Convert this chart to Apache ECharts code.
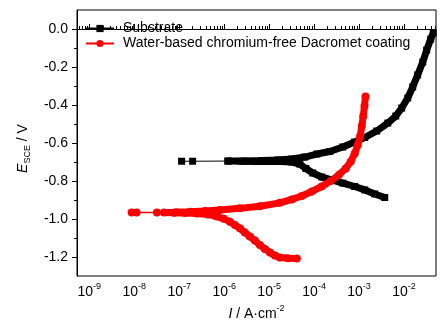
<!DOCTYPE html>
<html>
<head>
<meta charset="utf-8">
<script src="https://cdn.jsdelivr.net/npm/echarts@6/dist/echarts.min.js"></script>
<style>
  html, body { margin: 0; padding: 0; background: #fff; }
  #chart { width: 443px; height: 324px; }
</style>
</head>
<body>
<div id="chart"></div>
<script>
// Potentiodynamic polarization curves: current density (A·cm-2) vs potential (V vs SCE)

const seriesNames = ['Substrate', 'Water-based chromium-free Dacromet coating'];

// Substrate: sparse points near the corrosion potential
const substrateSparse = [
  [1.21e-6, -0.695], [1.99e-7, -0.696], [1.13e-7, -0.696]
];
// Substrate: cathodic branch -> corrosion potential -> anodic branch
const substrateCurve = [
  [3.72e-3, -0.887], [2.23e-3, -0.868], [1.34e-3, -0.847], [8.0e-4, -0.829],
  [4.35e-4, -0.811], [2.61e-4, -0.795], [1.48e-4, -0.779], [9.35e-5, -0.758],
  [6.55e-5, -0.734], [4.81e-5, -0.711], [3.19e-5, -0.700], [1.73e-5, -0.697],
  [9.35e-6, -0.697], [4.81e-6, -0.697], [2.47e-6, -0.696], [1.21e-6, -0.695],
  [2.88e-6, -0.695], [6.89e-6, -0.692], [1.56e-5, -0.689], [3.19e-5, -0.684],
  [6.21e-5, -0.674], [1.15e-4, -0.658], [2.23e-4, -0.645], [4.35e-4, -0.621],
  [8.0e-4, -0.595], [1.34e-3, -0.571], [2.47e-3, -0.537], [4.35e-3, -0.495],
  [6.55e-3, -0.458], [8.89e-3, -0.416], [1.21e-2, -0.363], [1.56e-2, -0.305],
  [2.01e-2, -0.242], [2.61e-2, -0.174], [3.19e-2, -0.111], [3.92e-2, -0.053],
  [4.46e-2, -0.021]
];

// Dacromet coating: sparse points near the corrosion potential
const coatingSparse = [
  [3.19e-8, -0.966], [1.13e-8, -0.966], [8.75e-9, -0.966]
];
// Dacromet coating: cathodic branch -> corrosion potential -> anodic branch
const coatingCurve = [
  [4.13e-5, -1.208], [2.61e-5, -1.207], [1.73e-5, -1.203], [1.34e-5, -1.192],
  [1.04e-5, -1.176], [8.02e-6, -1.158], [6.21e-6, -1.137], [4.81e-6, -1.113],
  [3.72e-6, -1.092], [2.88e-6, -1.071], [2.23e-6, -1.049], [1.73e-6, -1.032],
  [1.34e-6, -1.014], [9.84e-7, -0.999], [6.89e-7, -0.987], [4.35e-7, -0.976],
  [2.47e-7, -0.971], [1.34e-7, -0.968], [7.62e-8, -0.967], [4.57e-8, -0.966],
  [8.45e-8, -0.965], [1.73e-7, -0.962], [3.72e-7, -0.958], [8.02e-7, -0.953],
  [2.23e-6, -0.944], [6.21e-6, -0.933], [1.73e-5, -0.915], [3.19e-5, -0.897],
  [5.33e-5, -0.879], [8.89e-5, -0.855], [1.48e-4, -0.829], [2.35e-4, -0.800],
  [3.54e-4, -0.768], [5.06e-4, -0.734], [6.55e-4, -0.697], [8.0e-4, -0.655],
  [9.35e-4, -0.611], [1.06e-3, -0.563], [1.15e-3, -0.511], [1.24e-3, -0.458],
  [1.32e-3, -0.405], [1.39e-3, -0.355]
];

// Axis ranges and ticks
const xMin = 5.33e-10, xMax = 5.14e-2;
const yMin = -1.3, yMax = 0.1;
const xTicks = [1e-9, 1e-8, 1e-7, 1e-6, 1e-5, 1e-4, 1e-3, 1e-2];
const yTicks = [-1.2, -1.0, -0.8, -0.6, -0.4, -0.2, 0.0];
const yMinorTicks = [-1.1, -0.9, -0.7, -0.5, -0.3, -0.1];
// logarithmic minor ticks 2..9 within every decade
const xMinorTicks = [];
for (let d = -10; d <= -2; d++) {
  for (let m = 2; m <= 9; m++) {
    const v = m * Math.pow(10, d);
    if (v > xMin && v < xMax) xMinorTicks.push(v);
  }
}

const FONT = 'Liberation Sans, Arial, sans-serif';
const chart = echarts.init(document.getElementById('chart'), null, { renderer: 'canvas' });

chart.setOption({
  animation: false,
  backgroundColor: '#fff',
  textStyle: { fontFamily: FONT },
  grid: {
    left: 77, top: 10, right: 7, bottom: 48,
    outerBoundsMode: 'none', containLabel: false,
    show: true, borderColor: '#000', borderWidth: 1, backgroundColor: 'transparent'
  },
  legend: {
    orient: 'vertical',
    left: 80, top: 16,
    itemWidth: 28, itemHeight: 9, itemGap: 0,
    data: seriesNames,
    textStyle: { fontFamily: FONT, fontSize: 14, color: '#000', lineHeight: 15, padding: [0, 0, 0, 4] }
  },
  xAxis: [{
    type: 'log', logBase: 10, min: xMin, max: xMax,
    name: '{i|I}{t| / A·cm}{sup|-2}',
    nameLocation: 'middle', nameGap: 25,
    nameTextStyle: {
      fontFamily: FONT, fontSize: 14, color: '#000', lineHeight: 20,
      rich: {
        i: { fontFamily: FONT, fontSize: 14, fontStyle: 'italic', color: '#000', lineHeight: 20, verticalAlign: 'middle' },
        t: { fontFamily: FONT, fontSize: 14, color: '#000', lineHeight: 20, verticalAlign: 'middle' },
        sup: { fontFamily: FONT, fontSize: 9, color: '#000', lineHeight: 8, verticalAlign: 'top' }
      }
    },
    axisLine: { lineStyle: { color: '#000', width: 1 } },
    axisTick: { inside: true, length: 5, customValues: xTicks, lineStyle: { color: '#000' } },
    splitLine: { show: false },
    axisLabel: {
      customValues: xTicks, margin: 6, color: '#000',
      formatter: function (v) {
        return '{b|10}{sup|' + Math.round(Math.log10(v)) + '}';
      },
      rich: {
        b: { fontFamily: FONT, fontSize: 14, color: '#000', lineHeight: 20, verticalAlign: 'middle' },
        sup: { fontFamily: FONT, fontSize: 9, color: '#000', lineHeight: 8, verticalAlign: 'top' }
      }
    }
  }, {
    // minor ticks of the current axis
    type: 'log', logBase: 10, min: xMin, max: xMax, position: 'bottom',
    axisLine: { show: false },
    axisTick: { inside: true, length: 3, customValues: xMinorTicks, lineStyle: { color: '#000' } },
    axisLabel: { show: false },
    splitLine: { show: false }
  }],
  yAxis: [{
    type: 'value', min: yMin, max: yMax,
    name: '{e|E}{s|SCE}{n| / V}',
    nameLocation: 'middle', nameRotate: 90, nameGap: 45,
    nameTextStyle: {
      fontFamily: FONT, fontSize: 14, color: '#000', lineHeight: 18,
      padding: [0, 11, 0, 0],
      rich: {
        e: { fontFamily: FONT, fontSize: 14, fontStyle: 'italic', color: '#000', lineHeight: 18, verticalAlign: 'middle' },
        s: { fontFamily: FONT, fontSize: 9, color: '#000', lineHeight: 9, verticalAlign: 'bottom' },
        n: { fontFamily: FONT, fontSize: 14, color: '#000', lineHeight: 18, verticalAlign: 'middle' }
      }
    },
    axisLine: { lineStyle: { color: '#000', width: 1 } },
    axisTick: { inside: false, length: 5, customValues: yTicks, lineStyle: { color: '#000' } },
    splitLine: { show: false },
    axisLabel: {
      customValues: yTicks, margin: 9, color: '#000', fontFamily: FONT, fontSize: 14,
      formatter: function (v) { return v.toFixed(1); }
    }
  }, {
    // minor ticks of the potential axis
    type: 'value', min: yMin, max: yMax, position: 'left',
    axisLine: { show: false },
    axisTick: { inside: false, length: 3, customValues: yMinorTicks, lineStyle: { color: '#000' } },
    axisLabel: { show: false },
    splitLine: { show: false }
  }],
  series: [
    {
      name: seriesNames[0], type: 'line', data: substrateSparse,
      symbol: 'rect', symbolSize: 7, showAllSymbol: true,
      itemStyle: { color: '#000' }, lineStyle: { color: '#000', width: 1 }, z: 3
    },
    {
      name: seriesNames[1], type: 'line', data: coatingSparse,
      symbol: 'circle', symbolSize: 8, showAllSymbol: true,
      itemStyle: { color: '#ff0000' }, lineStyle: { color: '#ff0000', width: 1.5 }, z: 3
    },
    {
      name: seriesNames[0], type: 'line', data: substrateCurve,
      symbol: 'rect', symbolSize: 7, showAllSymbol: true,
      itemStyle: { color: '#000' }, lineStyle: { color: '#000', width: 7 }, z: 4
    },
    {
      name: seriesNames[1], type: 'line', data: coatingCurve,
      symbol: 'circle', symbolSize: 8, showAllSymbol: true,
      itemStyle: { color: '#ff0000' }, lineStyle: { color: '#ff0000', width: 7 }, z: 5
    }
  ]
});
</script>
</body>
</html>
